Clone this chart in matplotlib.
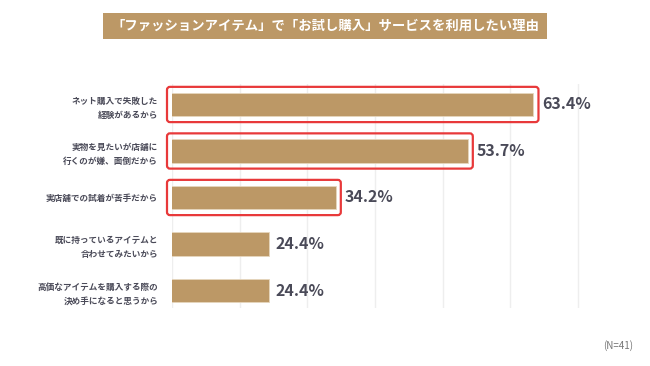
import matplotlib.pyplot as plt
from matplotlib.patches import FancyBboxPatch, Rectangle

plt.rcParams['font.family'] = ['Noto Sans CJK JP', 'DejaVu Sans']

title = "「ファッションアイテム」で「お試し購入」サービスを利用したい理由"
reasons = [
    "ネット購入で失敗した\n経験があるから",
    "実物を見たいが店舗に\n行くのが嫌、面倒だから",
    "実店舗での試着が苦手だから",
    "既に持っているアイテムと\n合わせてみたいから",
    "高価なアイテムを購入する際の\n決め手になると思うから",
]
values = [63.4, 53.7, 34.2, 24.4, 24.4]
highlight = [True, True, True, False, False]
note = "(N=41)"

bar_color = '#bc9866'
text_color = '#4a4a58'
red = '#e8393a'

fig = plt.figure(figsize=(6.5, 3.66), dpi=100)
ax = fig.add_axes([172 / 650, 0.158, (612 - 172) / 650, 0.6137])

y = list(range(len(values)))
ax.barh(y, values, height=0.5, color=bar_color, edgecolor='#e6d6bd', linewidth=0.6, zorder=2)
ax.set_xlim(10, 75)
ax.set_ylim(4.38, -0.45)

ax.set_xticks(range(10, 80, 10))
ax.tick_params(axis='x', length=0, labelbottom=False)
ax.grid(axis='x', color='#eeeeee', linewidth=1, zorder=0)
ax.set_yticks(y)
ax.set_yticklabels(reasons, fontsize=6.2, fontweight='bold', color=text_color, linespacing=1.75)
ax.tick_params(axis='y', length=0, pad=10)
for s in ax.spines.values():
    s.set_visible(False)

# px per data unit
px_x = 6.77
px_y = 46.5
for i, v in enumerate(values):
    if highlight[i]:
        padx = 5 / px_x
        pady = 6 / px_y
        box = FancyBboxPatch((10 - padx, i - 0.25 - pady), v - 10 + 2 * padx, 0.5 + 2 * pady,
                             boxstyle="round,pad=0,rounding_size=%f" % (3 / px_x),
                             mutation_aspect=px_x / px_y,
                             facecolor='none', edgecolor=red, linewidth=1.6,
                             clip_on=False, zorder=3)
        ax.add_patch(box)
        off = 1.3
    else:
        off = 0.9
    ax.text(v + off, i, f"{v}%", va='center', ha='left', fontsize=11.5,
            fontweight='bold', color=text_color)

fig.patches.append(Rectangle((103 / 650, 1 - 39 / 366), 444 / 650, 26 / 366,
                             transform=fig.transFigure, facecolor=bar_color,
                             edgecolor='none'))
fig.text(325 / 650, 1 - 26 / 366, title, ha='center', va='center',
         fontsize=9.6, fontweight='bold', color='white')
fig.text(633 / 650, 1 - 346 / 366, note, ha='right', va='center',
         fontsize=7, color='#777777')

fig.savefig('out.png', dpi=100)
